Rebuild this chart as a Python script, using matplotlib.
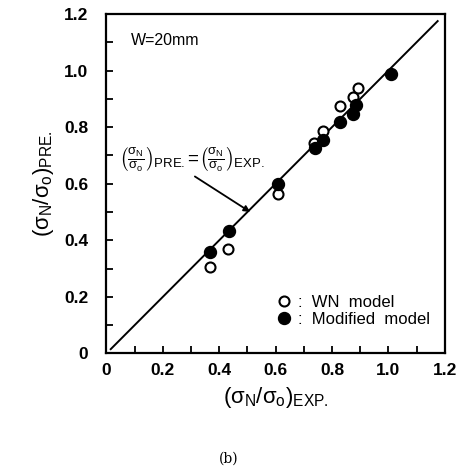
import matplotlib
matplotlib.use("Agg")
import matplotlib.pyplot as plt
from matplotlib.lines import Line2D
from matplotlib.ticker import MultipleLocator, FixedLocator, FixedFormatter

# values
exp_mod = [0.367, 0.434, 0.607, 0.739, 0.769, 0.830, 0.875, 0.887, 1.011]
pre_mod = [0.359, 0.433, 0.599, 0.725, 0.754, 0.817, 0.846, 0.878, 0.988]
exp_wn = [0.367, 0.432, 0.609, 0.736, 0.767, 0.828, 0.875, 0.893]
pre_wn = [0.306, 0.369, 0.562, 0.745, 0.787, 0.875, 0.908, 0.937]
line_ends = [0.015, 1.175]
tick_vals = [0, 0.2, 0.4, 0.6, 0.8, 1.0, 1.2]
tick_labels = ["0", "0.2", "0.4", "0.6", "0.8", "1.0", "1.2"]

plt.rcParams['font.family'] = ['Liberation Sans', 'DejaVu Sans']
plt.rcParams['mathtext.fontset'] = 'custom'
plt.rcParams['mathtext.rm'] = 'Liberation Sans'
plt.rcParams['mathtext.it'] = 'Liberation Sans'

fig = plt.figure(figsize=(4.58, 4.75), dpi=100)
ax = fig.add_axes([0.2325, 0.256, 0.7385, 0.7145])

ax.plot(line_ends, line_ends, color='black', lw=1.4, zorder=1)
ax.plot(exp_wn, pre_wn, 'o', ms=7.2, mfc='white', mec='black', mew=1.5, zorder=2)
ax.plot(exp_mod, pre_mod, 'o', ms=8.6, mfc='black', mec='black', zorder=3)

ax.set_xlim(0, 1.2)
ax.set_ylim(0, 1.2)
for axis in (ax.xaxis, ax.yaxis):
    axis.set_major_locator(FixedLocator(tick_vals))
    axis.set_major_formatter(FixedFormatter(tick_labels))
    axis.set_minor_locator(MultipleLocator(0.1))
ax.tick_params(which='both', direction='in', length=5, width=1.3,
               top=False, right=False)
ax.tick_params(axis='x', which='major', pad=7, labelsize=12.5)
ax.tick_params(axis='y', which='major', pad=13, labelsize=12.5)
for lab in ax.get_xticklabels() + ax.get_yticklabels():
    lab.set_fontweight('bold')
for sp in ax.spines.values():
    sp.set_linewidth(1.6)

ax.set_xlabel(r'$(\sigma_{\rm N}/\sigma_{\rm o})_{\rm EXP.}$', fontsize=16, labelpad=5)
ax.set_ylabel(r'$(\sigma_{\rm N}/\sigma_{\rm o})_{\rm PRE.}$', fontsize=16, labelpad=6)

ax.text(0.085, 1.105, 'W=20mm', fontsize=11.5, va='center')

ax.annotate(r'$\left(\frac{\sigma_{\rm N}}{\sigma_{\rm o}}\right)_{\rm PRE.}\!=\!'
            r'\left(\frac{\sigma_{\rm N}}{\sigma_{\rm o}}\right)_{\rm EXP.}$',
            xy=(0.51, 0.50), xytext=(0.045, 0.685), fontsize=13.5,
            va='center', ha='left',
            arrowprops=dict(arrowstyle='-|>', color='black', lw=1.3,
                            shrinkA=0, shrinkB=0, mutation_scale=9,
                            relpos=(0.46, 0.1)))

handles = [Line2D([], [], ls='none', marker='o', ms=7.2, mfc='white', mec='black', mew=1.5),
           Line2D([], [], ls='none', marker='o', ms=8.6, mfc='black', mec='black')]
ax.legend(handles, [':  WN  model', ':  Modified  model'], loc='lower right',
          bbox_to_anchor=(1.0, 0.035), frameon=False, fontsize=12,
          handletextpad=0.2, handlelength=1.2, labelspacing=0.1)

fig.text(0.5, 0.025, '(b)', fontsize=10, ha='center', family='DejaVu Serif')

fig.savefig('out.png', dpi=100)
